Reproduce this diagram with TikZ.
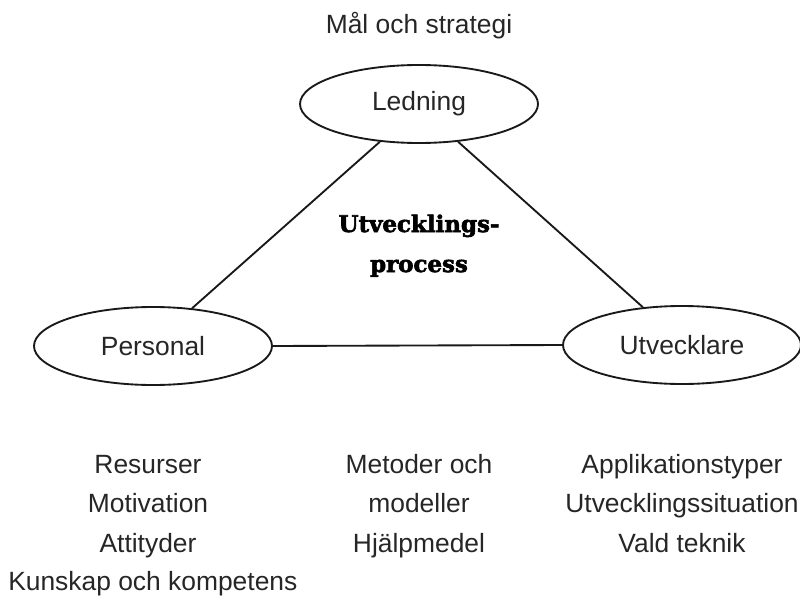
\documentclass[tikz,border=0pt]{standalone}
\usepackage{fontspec}
\setmainfont{Liberation Sans}
\newfontfamily\slabfont[BoldFeatures={FakeBold=2.6}]{DejaVu Serif}
\usetikzlibrary{shapes.geometric,positioning}

\begin{document}
\begin{tikzpicture}[x=0.75pt,y=-0.75pt]

\tikzstyle{party}=[ellipse, draw=black!90, line width=1.4pt, inner sep=0pt,
    minimum width=178.5pt, minimum height=58.5pt, text=black!85,
    font=\fontsize{19.8}{23}\selectfont]
\tikzstyle{factors}=[align=center, inner sep=0pt, anchor=base, text=black!85,
    font=\fontsize{19.8}{29.6}\selectfont]
\tikzstyle{process}=[align=center, inner sep=0pt, anchor=base, text=black,
    font=\slabfont\bfseries\fontsize{17.2}{30}\selectfont]
\tikzstyle{link}=[draw=black!90, line width=1.4pt]

\useasboundingbox (0,0) rectangle (800,596);

% the three parties
\node (Ledning) [party] at (419,104) {Ledning};
\node (Personal) [party] at (153,346) {Personal};
\node (Utvecklare) [party] at (682,345) {Utvecklare};

\node (goal) [factors] at (419,33) {Mål och strategi};
\node (proc) [process] at (419,272) {Utvecklings-\\process};

\draw [link] (Ledning.224) -- (Personal.44);
\draw [link] (Ledning.316) -- (Utvecklare.136);
\draw [link] (Personal.east) -- (Utvecklare.west);

% what each party brings (base = last line)
\node (resources) [factors] at (148,552) {Resurser\\Motivation\\Attityder};
\node (skills) [factors, anchor=base west] at (8,590) {Kunskap och kompetens};
\node (methods) [factors] at (419,552) {Metoder och\\modeller\\Hjälpmedel};
\node (apps) [factors] at (682,552) {Applikationstyper\\Utvecklingssituation\\Vald teknik};

\end{tikzpicture}
\end{document}
